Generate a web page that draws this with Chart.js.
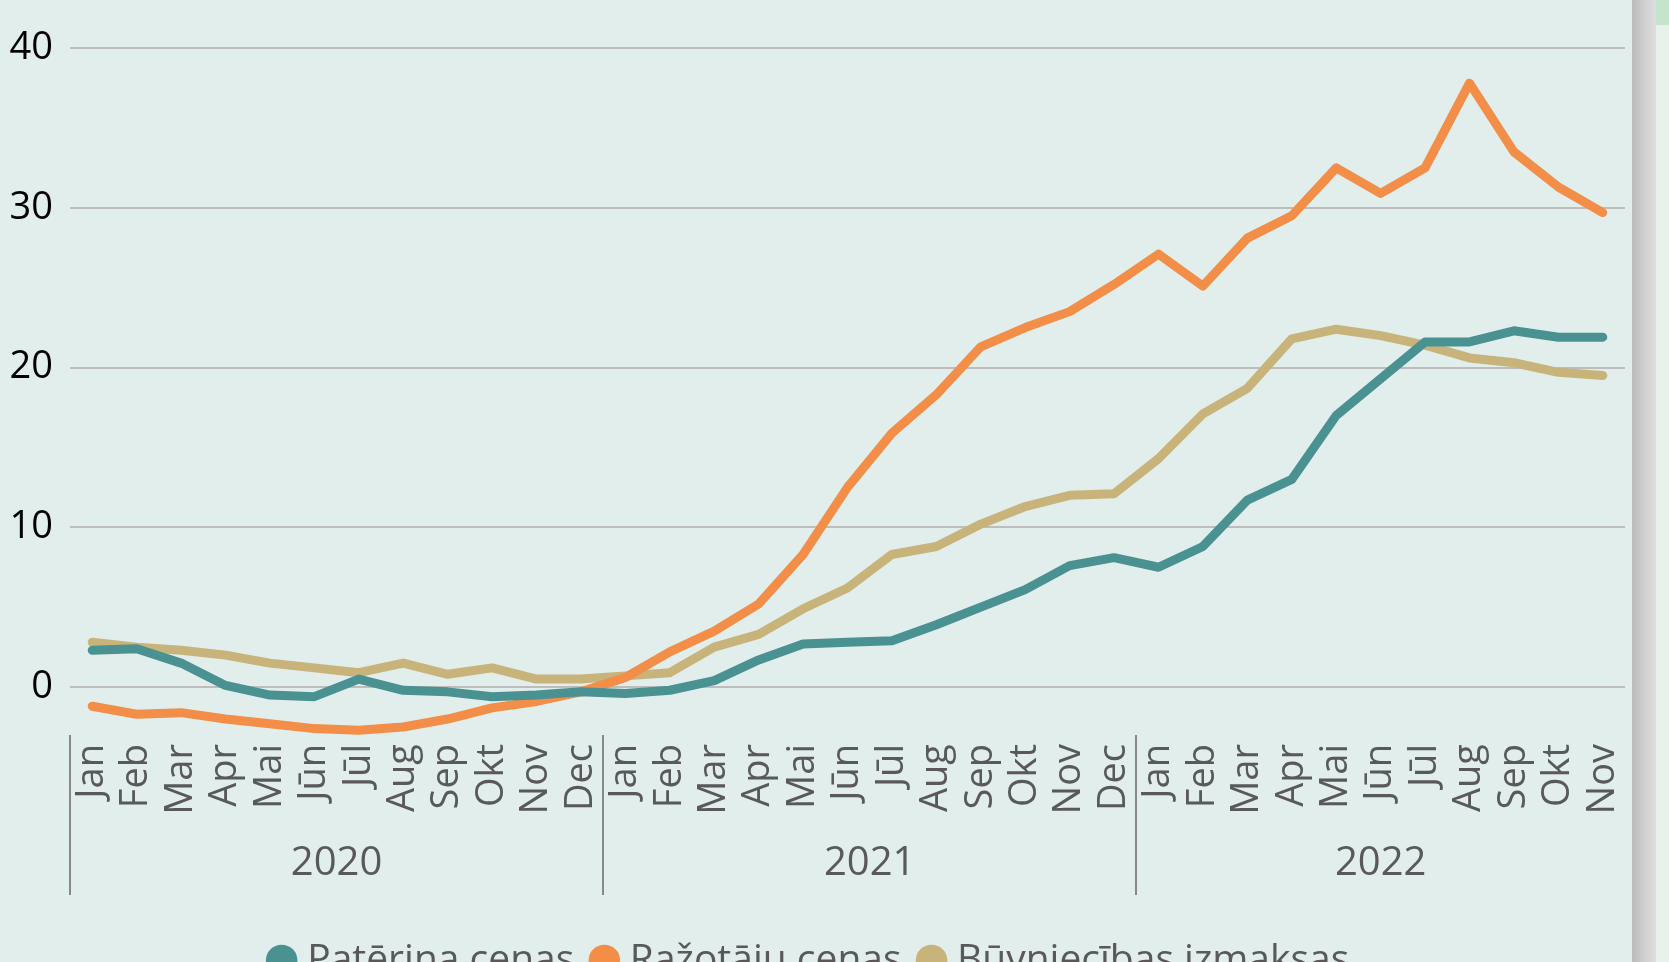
<!DOCTYPE html>
<html><head><meta charset="utf-8">
<script src="https://cdn.jsdelivr.net/npm/chart.js@4.4.1/dist/chart.umd.min.js"></script>
<style>
html,body{margin:0;padding:0;width:1669px;height:962px;overflow:hidden;background:#E1EEEC;}
#wrap{position:absolute;left:0;top:0;width:1632px;height:990px;}
#strip{position:absolute;left:1632px;top:0;width:24px;height:962px;background:linear-gradient(to right,#bababa,#cfcfcf 50%,#dedede);}
#side{position:absolute;left:1656px;top:0;width:13px;height:962px;background:#E8F2EA;}
#sidetop{position:absolute;left:1656px;top:0;width:13px;height:25px;background:#C6E4CC;}
</style></head><body>
<div id="wrap"><canvas id="c"></canvas></div>
<div id="strip"></div><div id="side"></div><div id="sidetop"></div>
<script>
const months2020 = ['Jan','Feb','Mar','Apr','Mai','Jūn','Jūl','Aug','Sep','Okt','Nov','Dec'];
const months2021 = ['Jan','Feb','Mar','Apr','Mai','Jūn','Jūl','Aug','Sep','Okt','Nov','Dec'];
const months2022 = ['Jan','Feb','Mar','Apr','Mai','Jūn','Jūl','Aug','Sep','Okt','Nov'];
const years = ['2020','2021','2022'];
const yTickValues = [0,10,20,30,40];

const paterinaCenas = [2.3,2.4,1.5,0.1,-0.5,-0.6,0.5,-0.2,-0.3,-0.6,-0.5,-0.3,
  -0.4,-0.2,0.4,1.7,2.7,2.8,2.9,3.9,5.0,6.1,7.6,8.1,
  7.5,8.8,11.7,13.0,17.0,19.3,21.6,21.6,22.3,21.9,21.9];
const razotajuCenas = [-1.2,-1.7,-1.6,-2.0,-2.3,-2.6,-2.7,-2.5,-2.0,-1.3,-0.9,-0.3,
  0.6,2.2,3.5,5.2,8.3,12.5,15.9,18.3,21.3,22.5,23.5,25.2,
  27.1,25.1,28.1,29.5,32.5,30.9,32.5,37.8,33.5,31.3,29.7];
const buvniecibasIzmaksas = [2.8,2.5,2.3,2.0,1.5,1.2,0.9,1.5,0.8,1.2,0.5,0.5,
  0.7,0.9,2.5,3.3,4.9,6.2,8.3,8.8,10.2,11.3,12.0,12.1,
  14.3,17.1,18.7,21.8,22.4,22.0,21.4,20.6,20.3,19.7,19.5];

const yearMonths = [months2020, months2021, months2022];
const labels = [].concat(...yearMonths);

const FONT = "'Open Sans', 'DejaVu Sans', sans-serif";

const yearGroups = {
  id: 'yearGroups',
  afterDraw(chart) {
    const x = chart.scales.x, ctx = chart.ctx, area = chart.chartArea;
    const step = x.getPixelForValue(1) - x.getPixelForValue(0);
    ctx.save();
    let start = 0;
    yearMonths.forEach((m, i) => {
      const s = start, e = start + m.length - 1;
      const left = Math.round(x.getPixelForValue(s) - step / 2);
      ctx.strokeStyle = '#888888';
      ctx.lineWidth = 2;
      ctx.beginPath();
      ctx.moveTo(left, area.bottom);
      ctx.lineTo(left, area.bottom + 160);
      ctx.stroke();
      const c = (x.getPixelForValue(s) + x.getPixelForValue(e)) / 2;
      ctx.fillStyle = '#595959';
      ctx.font = "40px " + FONT;
      ctx.textAlign = 'center';
      ctx.textBaseline = 'middle';
      ctx.fillText(years[i], c, area.bottom + 129);
      start += m.length;
    });
    ctx.restore();
  }
};

const ds = (label, data, color) => ({
  label, data, borderColor: color, backgroundColor: color,
  borderWidth: 9, pointRadius: 0, pointHoverRadius: 0, tension: 0,
  borderCapStyle: 'round', borderJoinStyle: 'round', fill: false
});

new Chart(document.getElementById('c'), {
  type: 'line',
  data: {
    labels,
    datasets: [
      ds('Patēriņa cenas', paterinaCenas, '#4A9191'),
      ds('Ražotāju cenas', razotajuCenas, '#F28E47'),
      ds('Būvniecības izmaksas', buvniecibasIzmaksas, '#C8B47A')
    ]
  },
  options: {
    responsive: true, maintainAspectRatio: false, animation: false,
    layout: { padding: { top: 48, right: 7, left: 0, bottom: 0 } },
    plugins: {
      tooltip: { enabled: false },
      legend: {
        position: 'bottom',
        labels: {
          usePointStyle: true, pointStyle: 'circle',
          boxWidth: 12, boxHeight: 16, padding: 24,
          color: '#595959', font: { size: 39, family: FONT }
        }
      }
    },
    scales: {
      x: {
        type: 'category',
        offset: true,
        grid: { display: false, drawTicks: false },
        border: { display: false },
        ticks: {
          autoSkip: false, minRotation: 90, maxRotation: 90, padding: 9,
          color: '#595959', font: { size: 38, family: FONT }
        },
        afterFit(scale) { scale.height = 182; scale.paddingLeft = 0; scale.paddingRight = 0; }
      },
      y: {
        min: -3, max: 40,
        afterBuildTicks(scale) { scale.ticks = yTickValues.map(v => ({ value: v })); },
        grid: { color: '#BDBDBD', lineWidth: 2, drawTicks: false },
        border: { display: false },
        ticks: { padding: 17, color: '#000000', font: { size: 38, family: FONT } },
        afterFit(scale) { scale.width = 70; }
      }
    }
  },
  plugins: [yearGroups]
});
</script>
</body></html>
